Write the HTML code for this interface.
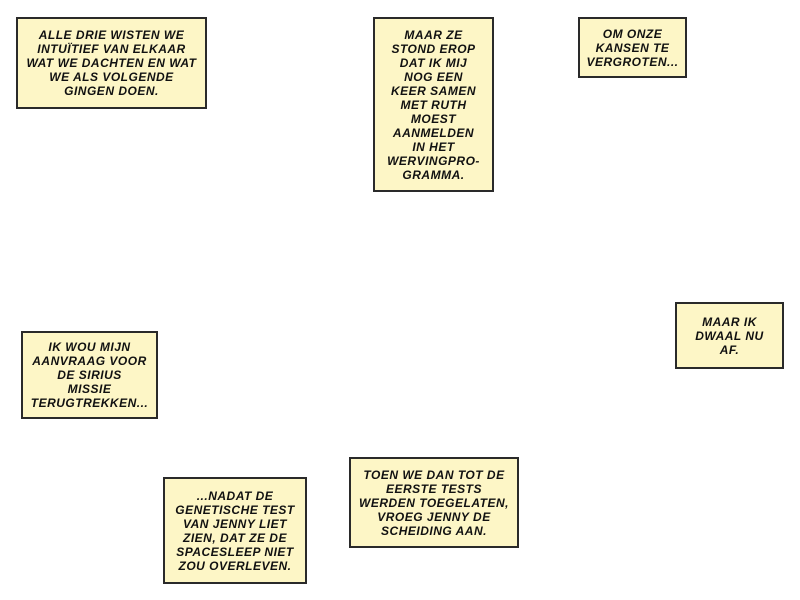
<!DOCTYPE html>
<html><head><meta charset="utf-8"><style>
body{margin:0;width:800px;height:600px;background:#fff;position:relative;overflow:hidden}
.b{position:absolute;box-sizing:border-box;background:#fdf6c6;border:2px solid #2a2a2a;display:flex;align-items:center;justify-content:center;text-align:center;font-family:"Liberation Sans",sans-serif;font-weight:bold;font-style:italic;font-size:12px;line-height:14px;color:#111;text-transform:uppercase;letter-spacing:0.5px;white-space:nowrap}
</style></head><body>
<div class="b" style="left:16px;top:17px;width:191px;height:92px">Alle drie wisten we<br>intuïtief van elkaar<br>wat we dachten en wat<br>we als volgende<br>gingen doen.</div>
<div class="b" style="left:373px;top:17px;width:121px;height:175px">Maar ze<br>stond erop<br>dat ik mij<br>nog een<br>keer samen<br>met Ruth<br>moest<br>aanmelden<br>in het<br>wervingpro-<br>gramma.</div>
<div class="b" style="left:578px;top:17px;width:109px;height:61px">Om onze<br>kansen te<br>vergroten...</div>
<div class="b" style="left:675px;top:302px;width:109px;height:67px">Maar ik<br>dwaal nu<br>af.</div>
<div class="b" style="left:21px;top:331px;width:137px;height:88px">Ik wou mijn<br>aanvraag voor<br>de Sirius<br>missie<br>terugtrekken...</div>
<div class="b" style="left:349px;top:457px;width:170px;height:91px">Toen we dan tot de<br>eerste tests<br>werden toegelaten,<br>vroeg Jenny de<br>scheiding aan.</div>
<div class="b" style="left:163px;top:477px;width:144px;height:107px">...nadat de<br>genetische test<br>van Jenny liet<br>zien, dat ze de<br>spacesleep niet<br>zou overleven.</div>
</body></html>
